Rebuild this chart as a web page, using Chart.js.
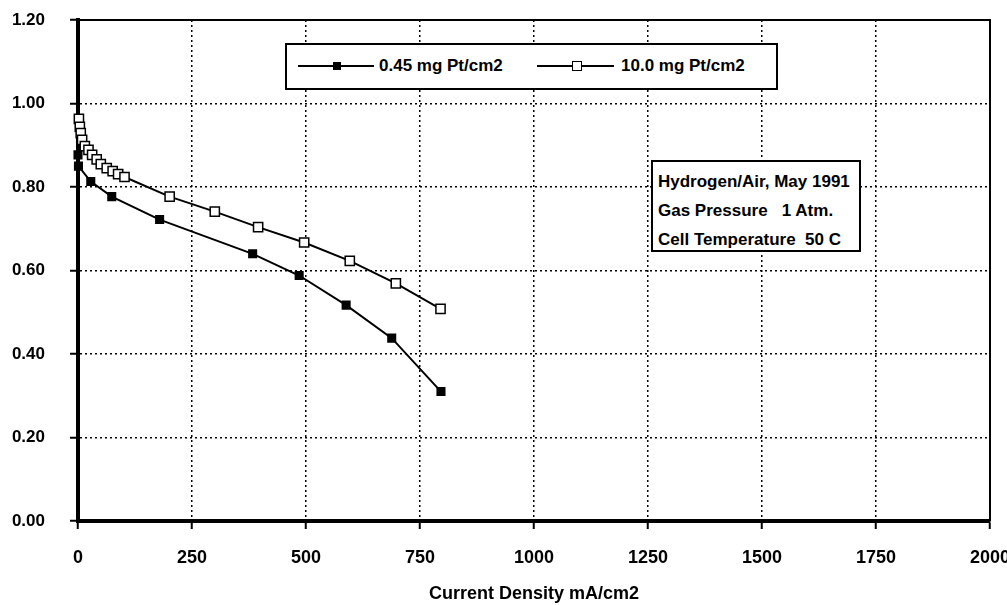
<!DOCTYPE html>
<html>
<head>
<meta charset="utf-8">
<script src="https://cdn.jsdelivr.net/npm/chart.js@4/dist/chart.umd.min.js"></script>
<style>
  body { margin: 0; background: #fff; }
  #wrap { position: relative; width: 1007px; height: 605px; }
  .box { position: absolute; border: 2px solid #000; background: #fff; box-sizing: border-box;
         font-family: "Liberation Sans", Arial, sans-serif; font-weight: bold; color: #000; }
  .lg-line { position: absolute; height: 2px; background: #000; }
  .lg-mark { position: absolute; box-sizing: border-box; border: 1.5px solid #000; }
  .lg-text { position: absolute; font-size: 17px; line-height: 20px; white-space: pre; }
  .note { position: absolute; left: 5px; font-size: 17px; line-height: 20px; white-space: pre; }
</style>
</head>
<body>
<div id="wrap">
  <canvas id="myChart" width="1007" height="605"></canvas>
  <div class="box" id="legend" style="left:285px; top:43px; width:493px; height:47px;"></div>
  <div class="box" id="notes" style="left:651px; top:160px; width:210px; height:92px;"></div>
</div>
<script>
// current density (mA/cm2) and cell voltage (V)
const seriesNames = ['0.45 mg Pt/cm2', '10.0 mg Pt/cm2'];
const xData1 = [0, 1, 28, 74, 179, 383, 485, 588, 688, 796];
const yData1 = [0.877, 0.850, 0.813, 0.777, 0.722, 0.640, 0.588, 0.517, 0.438, 0.310];
const xData2 = [2, 4, 6, 9, 15, 23, 31, 41, 50, 63, 76, 88, 102, 201, 300, 395, 496, 596, 697, 795];
const yData2 = [0.963, 0.944, 0.929, 0.913, 0.898, 0.889, 0.877, 0.866, 0.855, 0.845, 0.838, 0.831, 0.824, 0.777, 0.741, 0.704, 0.667, 0.623, 0.569, 0.508];
const noteLines = ['Hydrogen/Air, May 1991', 'Gas Pressure   1 Atm.', 'Cell Temperature  50 C'];
const xTitle = 'Current Density mA/cm2';

function toPoints(xs, ys) {
  return xs.map((x, i) => ({ x: x, y: ys[i] }));
}

// legend box
const legend = document.getElementById('legend');
legend.innerHTML =
  '<div class="lg-line" style="left:11px; top:20px; width:76px;"></div>' +
  '<div class="lg-mark" style="left:46px; top:17px; width:8px; height:8px; background:#000;"></div>' +
  '<div class="lg-text" style="left:92px; top:11px;">' + seriesNames[0] + '</div>' +
  '<div class="lg-line" style="left:250px; top:20px; width:77px;"></div>' +
  '<div class="lg-mark" style="left:285px; top:16px; width:10px; height:10px; background:#fff;"></div>' +
  '<div class="lg-text" style="left:334px; top:11px;">' + seriesNames[1] + '</div>';

// text box
const notes = document.getElementById('notes');
notes.innerHTML = noteLines.map((t, i) =>
  '<div class="note" style="top:' + (10 + i * 29) + 'px;">' + t + '</div>').join('');

// solid top and right edge of the plot
const frame = {
  id: 'frame',
  afterDraw(chart) {
    const c = chart.ctx;
    const xs = chart.scales.x, ys = chart.scales.y;
    const l = xs.getPixelForValue(0), r = xs.getPixelForValue(2000);
    const t = ys.getPixelForValue(1.2), b = ys.getPixelForValue(0);
    c.save();
    c.strokeStyle = '#000';
    c.lineWidth = 2;
    c.beginPath();
    c.moveTo(l, t);
    c.lineTo(r, t);
    c.lineTo(r, b);
    c.stroke();
    c.restore();
  }
};

const ctx = document.getElementById('myChart');
Chart.defaults.color = '#000';
Chart.defaults.font.family = '"Liberation Sans", Arial, sans-serif';

new Chart(ctx, {
  type: 'scatter',
  data: {
    datasets: [{
      label: seriesNames[0],
      data: toPoints(xData1, yData1),
      showLine: true,
      borderColor: '#000',
      borderWidth: 2,
      pointStyle: 'rect',
      pointRadius: 5,
      pointBackgroundColor: '#000',
      pointBorderColor: '#000',
      clip: false
    }, {
      label: seriesNames[1],
      data: toPoints(xData2, yData2),
      showLine: true,
      borderColor: '#000',
      borderWidth: 2,
      pointStyle: 'rect',
      pointRadius: 6.5,
      pointBorderWidth: 1.5,
      pointBackgroundColor: '#fff',
      pointBorderColor: '#000',
      clip: false
    }]
  },
  options: {
    responsive: false,
    animation: false,
    layout: { padding: { top: 20, right: 0, left: 0, bottom: 0 } },
    plugins: {
      legend: { display: false },
      tooltip: { enabled: false }
    },
    scales: {
      x: {
        type: 'linear',
        min: 0,
        max: 2000,
        ticks: {
          stepSize: 250,
          padding: 18,
          font: { size: 18, weight: 'bold' },
          callback: v => String(v)
        },
        grid: { color: '#000', lineWidth: 1.5, tickLength: 8, tickWidth: 2, tickColor: '#000' },
        border: { display: true, color: '#000', width: 4, dash: [2, 3] },
        title: {
          display: true,
          text: xTitle,
          font: { size: 18, weight: 'bold' },
          padding: { top: 0, bottom: 0 }
        },
        afterFit(scale) {
          scale.height = 84;
          scale.paddingLeft = 0;
          scale.paddingRight = 17;
        }
      },
      y: {
        min: 0,
        max: 1.2,
        ticks: {
          stepSize: 0.2,
          padding: 25,
          font: { size: 17, weight: 'bold' },
          callback: v => Number(v).toFixed(2)
        },
        grid: { color: '#000', lineWidth: 1.5, tickLength: 8, tickWidth: 2, tickColor: '#000' },
        border: { display: true, color: '#000', width: 4, dash: [2, 3] },
        afterFit(scale) {
          scale.width = 78;
          scale.paddingTop = 0;
          scale.paddingBottom = 0;
        }
      }
    }
  },
  plugins: [frame]
});
</script>
</body>
</html>
